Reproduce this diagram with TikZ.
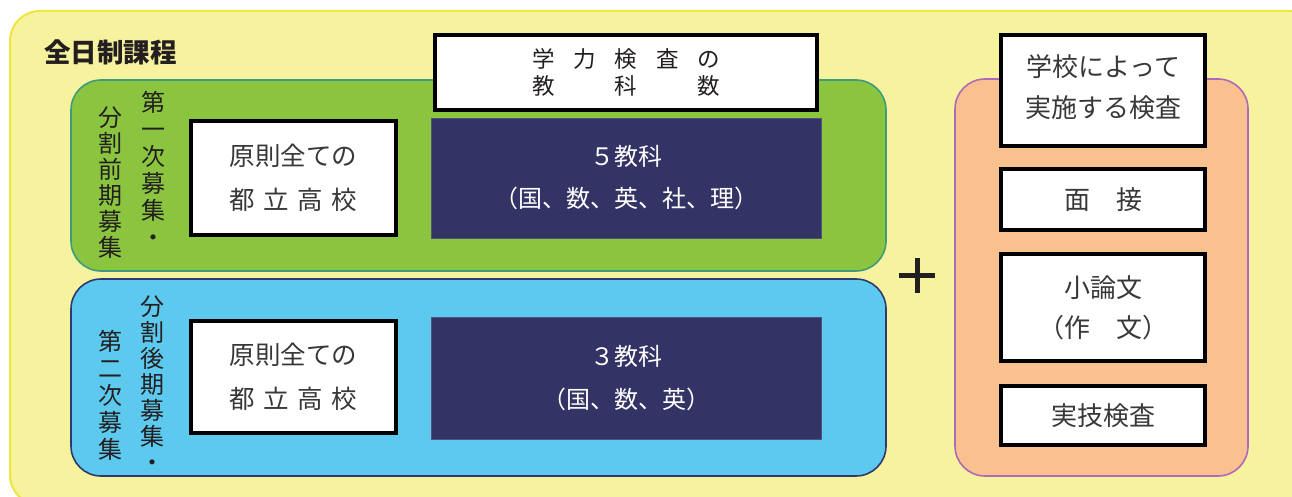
\documentclass[tikz,border=0pt]{standalone}
\usepackage{fontspec}
\setmainfont{Noto Sans CJK JP}
\definecolor{ybg}{HTML}{F7F29D}
\definecolor{ybd}{HTML}{EEE540}
\definecolor{gfill}{HTML}{8BC53F}
\definecolor{gbd}{HTML}{3E9B7C}
\definecolor{bfill}{HTML}{5DC9EF}
\definecolor{bbd}{HTML}{2E3A6E}
\definecolor{ofill}{HTML}{F9C18F}
\definecolor{obd}{HTML}{B068B8}
\definecolor{navy}{HTML}{333366}
\definecolor{ink}{HTML}{231F20}
\definecolor{soft}{HTML}{383838}
\begin{document}
\begin{tikzpicture}[x=1pt,y=-1pt,
  whitebox/.style={draw=black, line width=3.5pt, fill=white, inner sep=0pt, text=soft, align=center},
  navybox/.style={fill=navy, draw=navy!85!white, line width=0.6pt, inner sep=0pt, text=white, align=center},
  panel/.style={rounded corners=30pt, line width=1.6pt},
  vtext/.style={inner sep=0pt, align=center, text=ink, font={\fontsize{24}{26}\selectfont}}
]
\useasboundingbox (0,0) rectangle (1292,497);
\fill[white] (0,0) rectangle (1292,497);
% outer frame
\draw[ybd, fill=ybg, line width=2pt, rounded corners=30pt] (10,11) rectangle (1320,505);
\node[anchor=west, inner sep=0pt, text=ink, font={\fontsize{26.5}{30}\selectfont\bfseries}] (title) at (44,52) {全日制課程};
% panels
\draw[panel, draw=gbd, fill=gfill] (71,80) rectangle (886,271);
\draw[panel, draw=bbd, fill=bfill] (71,279) rectangle (886,476);
\draw[panel, draw=obd, fill=ofill] (955,79) rectangle (1248,476);
% vertical labels
\node[vtext] (g1) at (110,183) {分\\割\\前\\期\\募\\集};
\node[vtext, font={\fontsize{24}{27}\selectfont}] (g2) at (153,169) {第\\一\\次\\募\\集\\・};
\node[vtext, font={\fontsize{24}{27}\selectfont}] (b1) at (110,395) {第\\二\\次\\募\\集};
\node[vtext] (b2) at (152,384) {分\\割\\後\\期\\募\\集\\・};
% header
\node[whitebox, text=ink, minimum width=382pt, minimum height=75pt, font={\fontsize{22.5}{27}\selectfont}] (head) at (626,72.5)
  {\makebox[188pt][s]{学\hfill 力\hfill 検\hfill 査\hfill の}\\\makebox[188pt][s]{教\hfill 科\hfill 数}};
% school boxes
\node[whitebox, minimum width=205pt, minimum height=114pt, font={\fontsize{25.5}{44}\selectfont}] (s1) at (293.5,178)
  {原則全ての\\\makebox[5em][s]{都\hfill 立\hfill 高\hfill 校}};
\node[whitebox, minimum width=205pt, minimum height=112pt, font={\fontsize{25.5}{44}\selectfont}] (s2) at (293.5,377)
  {原則全ての\\\makebox[5em][s]{都\hfill 立\hfill 高\hfill 校}};
% subject boxes
\node[navybox, minimum width=390pt, minimum height=120pt, font={\fontsize{24}{42}\selectfont}] (n1) at (626,178)
  {５教科\\（国、数、英、社、理）};
\node[navybox, minimum width=390pt, minimum height=122pt, font={\fontsize{24}{43}\selectfont}] (n2) at (626,378)
  {３教科\\（国、数、英）};
% plus
\coordinate (pc) at (917,275.5);
\draw[ink, line width=5pt] ([xshift=-18pt]pc) -- ([xshift=18pt]pc);
\draw[ink, line width=5pt] ([yshift=-17.5pt]pc) -- ([yshift=17.5pt]pc);
% right boxes
\node[whitebox, minimum width=204pt, minimum height=111pt] (r1) at (1103,90.5) {};
\node[inner sep=0pt, text=soft, align=center, font={\fontsize{26}{41}\selectfont}] (r1t) at (1103,87.5)
  {学校によって\\実施する検査};
\node[whitebox, minimum width=204pt, minimum height=61pt, font={\fontsize{26}{30}\selectfont}] (r2) at (1103,199.5) {面　接};
\node[whitebox, minimum width=204pt, minimum height=107pt, font={\fontsize{26}{40}\selectfont}] (r3) at (1103,307.5) {小論文\\（作　文）};
\node[whitebox, minimum width=204pt, minimum height=59pt, font={\fontsize{26}{30}\selectfont}] (r4) at (1103,415.5) {実技検査};
\end{tikzpicture}
\end{document}
